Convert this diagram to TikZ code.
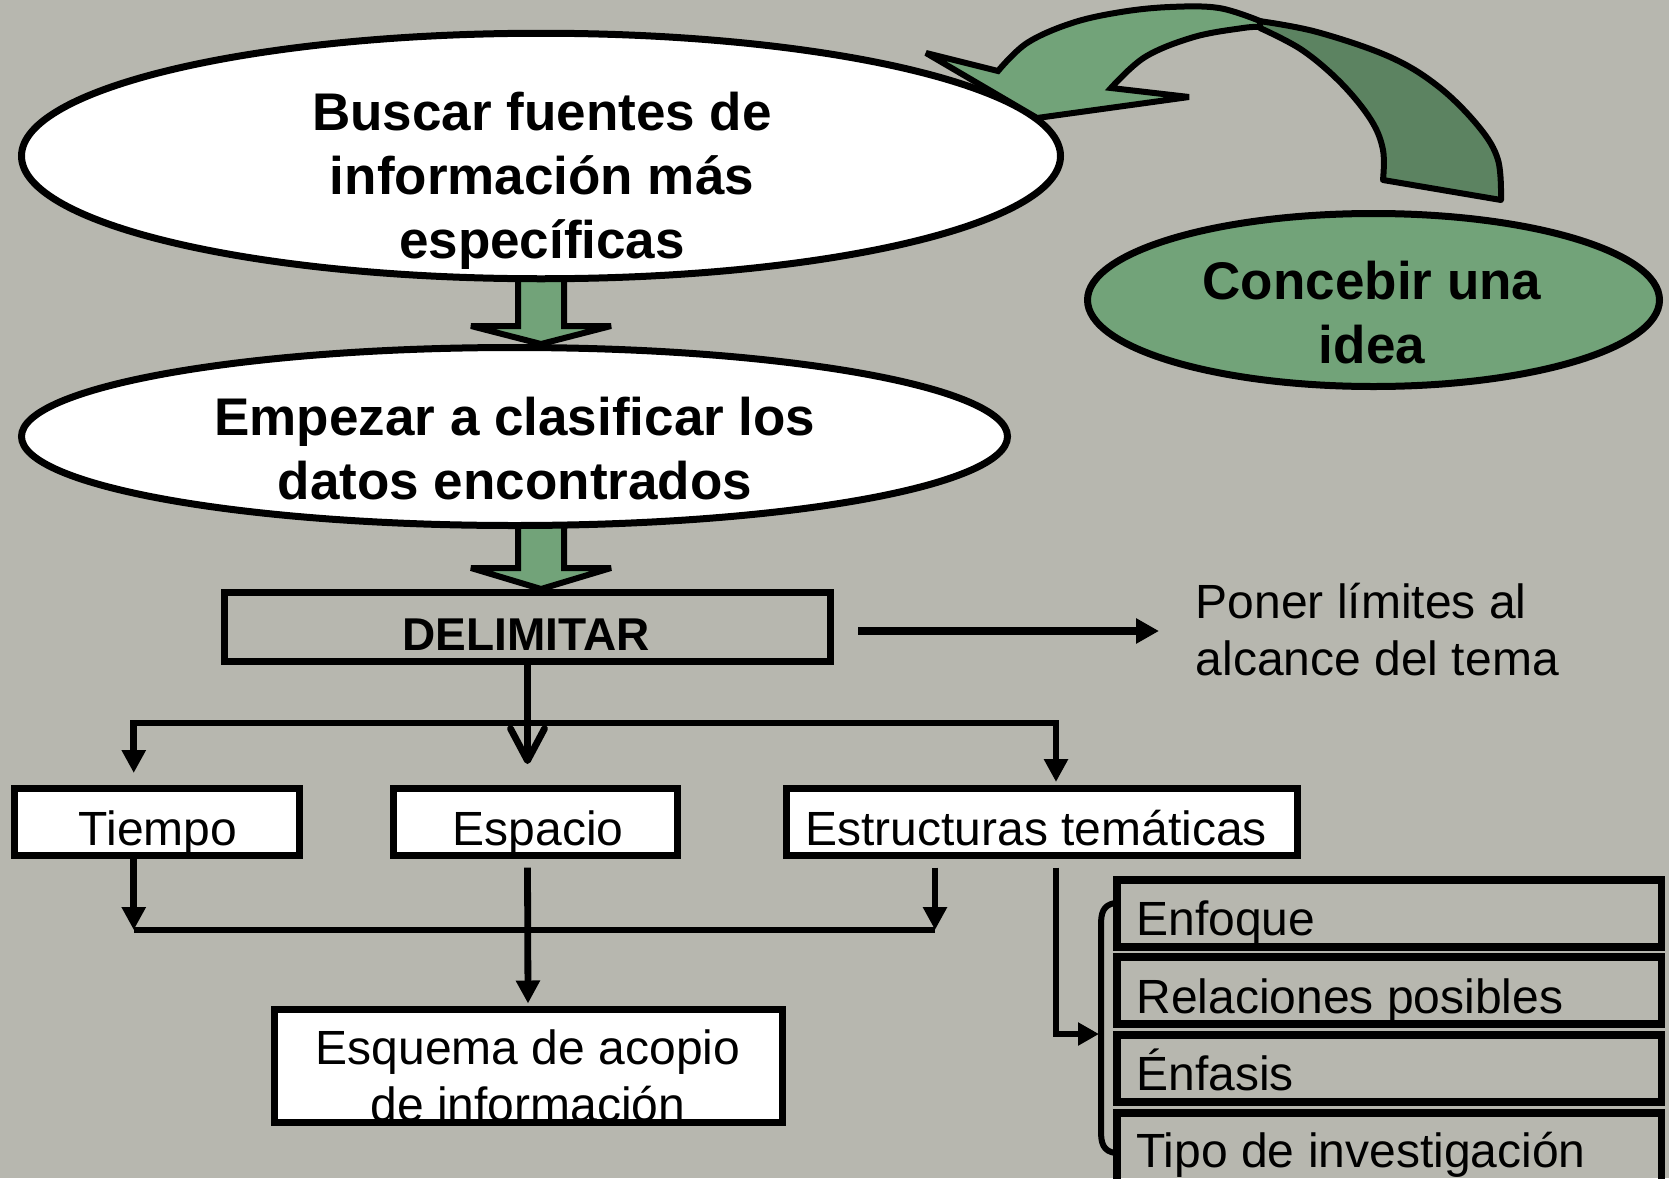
\documentclass[tikz,border=0pt]{standalone}
\usepackage{fontspec}
\setmainfont{Liberation Sans}
\usetikzlibrary{shapes.geometric,arrows.meta,calc}
\pgfdeclarelayer{bglayer}
\pgfdeclarelayer{arrlayer}
\pgfsetlayers{bglayer,arrlayer,main}
\definecolor{bg}{RGB}{183,183,175}
\definecolor{lgreen}{RGB}{114,163,121}
\definecolor{dgreen}{RGB}{92,131,97}
\newcommand\fbig{\fontsize{26.5}{32}\selectfont\bfseries}
\newcommand\fdel{\fontsize{23}{27}\selectfont\bfseries}
\newcommand\fnorm{\fontsize{24}{28.5}\selectfont}
\begin{document}
\begin{tikzpicture}[x=0.5pt,y=-0.5pt,
  ell/.style={ellipse,draw=black,line width=3.5pt,inner sep=0pt},
  wbox/.style={rectangle,draw=black,line width=3.5pt,inner sep=0pt,fill=white},
  gbox/.style={rectangle,draw=black,line width=3.75pt,inner sep=0pt},
  txt/.style={inner sep=0pt,anchor=base},
  ltxt/.style={inner sep=0pt,anchor=base west},
  conn/.style={line width=3.4pt,draw=black},
  tri/.style={-{Triangle[length=11.5pt,width=11.5pt]}},
  barb/.style={-{Straight Barb[length=16pt,width=17pt,line cap=round,line join=round]}},
  barrow/.style={draw=black,fill=lgreen,line width=3pt,line join=miter,miter limit=2.5},
]
\begin{pgfonlayer}{bglayer}
\fill[bg] (0,0) rectangle (1669,1178);
\end{pgfonlayer}
\useasboundingbox (0,0) rectangle (1669,1178);

% ellipses
\node[ell,fill=white,minimum width=519.5pt,minimum height=122.75pt] (e1) at (541,156) {};
\node[ell,fill=white,minimum width=493pt,minimum height=89pt] (e2) at (514.5,436.5) {};
\node[gbox,line width=3.5pt,minimum width=303pt,minimum height=34.5pt] (del) at (527.5,627) {};

% block arrows (behind ellipses)
\begin{pgfonlayer}{arrlayer}
\coordinate (b1t) at (e1.south |- e2.north);
\draw[barrow] ($(e1.south)+(-23,-6)$) -- ($(b1t)+(-23,-18)$) -- ($(b1t)+(-70,-18)$) -- (b1t)
  -- ($(b1t)+(70,-18)$) -- ($(b1t)+(23,-18)$) -- ($(e1.south)+(23,-6)$) -- cycle;
\coordinate (b2s) at (e1.south |- e2.south);
\coordinate (b2t) at (e1.south |- del.north);
\draw[barrow] ($(b2s)+(-23,-6)$) -- ($(b2t)+(-23,-21)$) -- ($(b2t)+(-70,-21)$) -- (b2t)
  -- ($(b2t)+(70,-21)$) -- ($(b2t)+(23,-21)$) -- ($(b2s)+(23,-6)$) -- cycle;
\end{pgfonlayer}

% curved arrow
\draw[barrow,fill=dgreen,line join=round]
  plot[smooth,tension=0.6] coordinates {(1259,21) (1317,32) (1390,57) (1439,87) (1479,127) (1498,160) (1501,200)}
  -- plot[smooth,tension=0.6] coordinates {(1383,180) (1383,150) (1371,120) (1341,83) (1302,50) (1260,28)} -- cycle;
\draw[barrow]
  plot[smooth,tension=0.6] coordinates {(1260,21) (1219,8) (1170,7) (1121,12) (1072,23) (1027,43) (998,71)}
  -- (926,53) -- (1037,118) -- (1189,97) -- (1111,88)
  -- plot[smooth,tension=0.6] coordinates {(1111,88) (1145,57) (1194,37) (1243,28) (1260,27)} -- cycle;

\node[ell,fill=lgreen,minimum width=286pt,minimum height=86.5pt] (e3) at (1373.5,300) {};

% ellipse texts
\node[txt] (t1) at (542,130) {\fbig\begin{tabular}[t]{@{}c@{}}Buscar fuentes de\\información más\\específicas\end{tabular}};
\node[txt] (t2) at (515,435) {\fbig\begin{tabular}[t]{@{}c@{}}Empezar a clasificar los\\datos encontrados\end{tabular}};
\node[txt] (t3) at (1372,299) {\fbig\begin{tabular}[t]{@{}c@{}}Concebir una\\idea\end{tabular}};

% DELIMITAR
\node[txt] (tdel) at (526,650) {\fdel DELIMITAR};
\coordinate (pend) at (1159,631);
\draw[line width=4pt,-{Triangle[length=11.5pt,width=12pt]}] ($(del.east)+(24,4)$) -- (pend);
\node[ltxt] (tpon) at (1195.5,618) {\fnorm\begin{tabular}[t]{@{}l@{}}Poner límites al\\alcance del tema\end{tabular}};

% second level boxes
\node[wbox,minimum width=142.75pt,minimum height=33.25pt] (tiempo) at (156.75,821.75) {};
\node[wbox,minimum width=142pt,minimum height=33.25pt] (espacio) at (535,821.75) {};
\node[wbox,minimum width=255.5pt,minimum height=33.25pt] (est) at (1041.5,821.75) {};
\node[wbox,minimum width=254pt,minimum height=56.5pt] (esq) at (528,1065.5) {};
\node[txt] (ttie) at (158,845) {\fnorm Tiempo};
\node[txt] (tesp) at (538,845) {\fnorm Espacio};
\node[txt] (test) at (1036,845) {\fnorm Estructuras temáticas};
\node[txt] (tesq) at (528,1064) {\fnorm\begin{tabular}[t]{@{}c@{}}Esquema de acopio\\de información\end{tabular}};

% connectors from DELIMITAR
\coordinate (hl) at (134,723);
\coordinate (a1) at ($(tiempo.north)+(-23,-12)$);
\coordinate (a3) at ($(est.north)+(14.5,-3)$);
\draw[conn,tri,line join=miter] (del.south |- hl) -| (a1);
\draw[conn,tri,line join=miter] (del.south |- hl) -| (a3);
\draw[conn,barb] (del.south) -- ($(espacio.north)+(-7.5,-21)$);

% lower connectors
\coordinate (l1) at (133.75,930);
\coordinate (l2) at (935,930);
\draw[conn] (l1) -- (l2);
\draw[conn,tri] ($(tiempo.south)+(-23,0)$) -- (l1);
\draw[conn,tri] ($(est.south)+(-106.5,9)$) -- (l2);
\draw[conn,tri] ($(espacio.south)+(-7.5,9)$) -- ($(esq.north)+(0,-2)$);

% stacked boxes
\node[gbox,minimum width=272.25pt,minimum height=33.5pt] (s1) at (1389.25,913.5) {};
\node[gbox,minimum width=272.25pt,minimum height=33.5pt] (s2) at (1389.25,990.5) {};
\node[gbox,minimum width=272.25pt,minimum height=33.5pt] (s3) at (1389.25,1068.5) {};
\node[gbox,minimum width=272.25pt,minimum height=39pt] (s4) at (1389.25,1152) {};
\node[ltxt] (ts1) at (1136,935) {\fnorm Enfoque};
\node[ltxt] (ts2) at (1136,1013) {\fnorm Relaciones posibles};
\node[ltxt] (ts3) at (1136,1090) {\fnorm Énfasis};
\node[ltxt] (ts4) at (1136,1167) {\fnorm Tipo de investigación};

% bracket and arrow into it
\draw[line width=3pt,line cap=round]
  (1115,903) .. controls (1103,905) and (1101,913) .. (1101,925) -- (1101,1131)
  .. controls (1101,1143) and (1103,1151) .. (1115,1153);
\coordinate (bk) at (1099,1034);
\draw[conn,-{Triangle[length=10.5pt,width=11pt]},line join=miter] ($(est.south)+(14.5,9)$) |- (bk);
\end{tikzpicture}
\end{document}
